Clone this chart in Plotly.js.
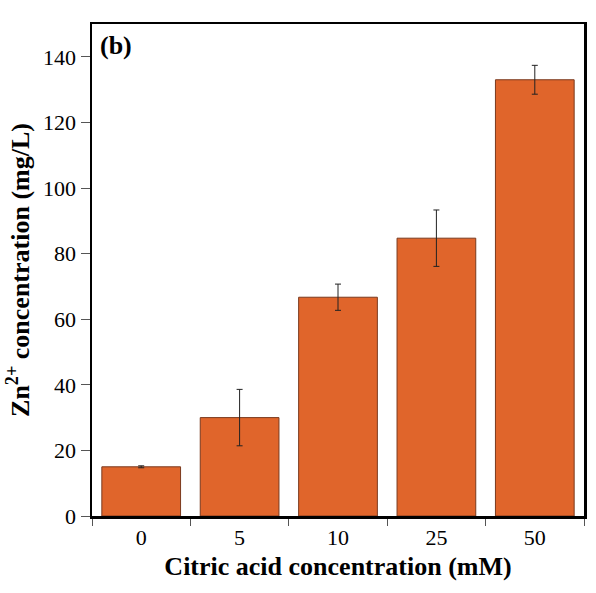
<!DOCTYPE html>
<html>
<head>
<meta charset="utf-8">
<script src="https://cdn.plot.ly/plotly-3.0.1.min.js"></script>
<style>html,body{margin:0;padding:0;background:#fff;}#chart{width:596px;height:593px;}</style>
</head>
<body>
<div id="chart"></div>
<script>
const categories = ["0", "5", "10", "25", "50"];
const znConc = [15.0, 30.0, 66.7, 84.7, 133.0];
const znErr = [0.3, 8.6, 4.0, 8.6, 4.4];
const yTicks = [0, 20, 40, 60, 80, 100, 120, 140];

const trace = {
  type: "bar",
  x: categories,
  y: znConc,
  width: 0.8,
  marker: {color: "#E0652B", line: {color: "#7a3a1e", width: 1}},
  error_y: {type: "data", array: znErr, visible: true, color: "#222222", thickness: 1, width: 3}
};

const serif = "'Liberation Serif', 'Times New Roman', serif";
const layout = {
  width: 596, height: 593,
  margin: {l: 92, r: 12, t: 24, b: 77},
  paper_bgcolor: "#fff", plot_bgcolor: "#fff",
  showlegend: false,
  font: {family: serif, color: "#000"},
  xaxis: {
    type: "category",
    range: [-0.5, 4.5],
    tickson: "boundaries",
    ticks: "outside", ticklen: 7, tickcolor: "#555", tickwidth: 1,
    tickfont: {family: serif, size: 22, color: "#000"},
    showline: true, linecolor: "#000", linewidth: 2.5, mirror: true,
    showgrid: false, zeroline: false,
    title: {text: "<b>Citric acid concentration (mM)</b>", font: {family: serif, size: 26, color: "#000"}, standoff: 8}
  },
  yaxis: {
    range: [0, 150],
    tickvals: yTicks,
    ticktext: yTicks.map(String),
    ticks: "outside", ticklen: 9, tickcolor: "#555", tickwidth: 1,
    tickfont: {family: serif, size: 22, color: "#000"},
    showline: true, linecolor: "#000", linewidth: 2.5, mirror: true,
    showgrid: false, zeroline: false,
    title: {text: "<b>Zn<sup>2+</sup> concentration (mg/L)</b>", font: {family: serif, size: 26, color: "#000"}, standoff: 6}
  },
  annotations: [{
    text: "<b>(b)</b>", xref: "paper", yref: "paper", x: 0.012, y: 0.99,
    xanchor: "left", yanchor: "top", showarrow: false,
    font: {family: serif, size: 26, color: "#000"}
  }]
};

Plotly.newPlot("chart", [trace], layout, {displayModeBar: false, staticPlot: true});
</script>
</body>
</html>
